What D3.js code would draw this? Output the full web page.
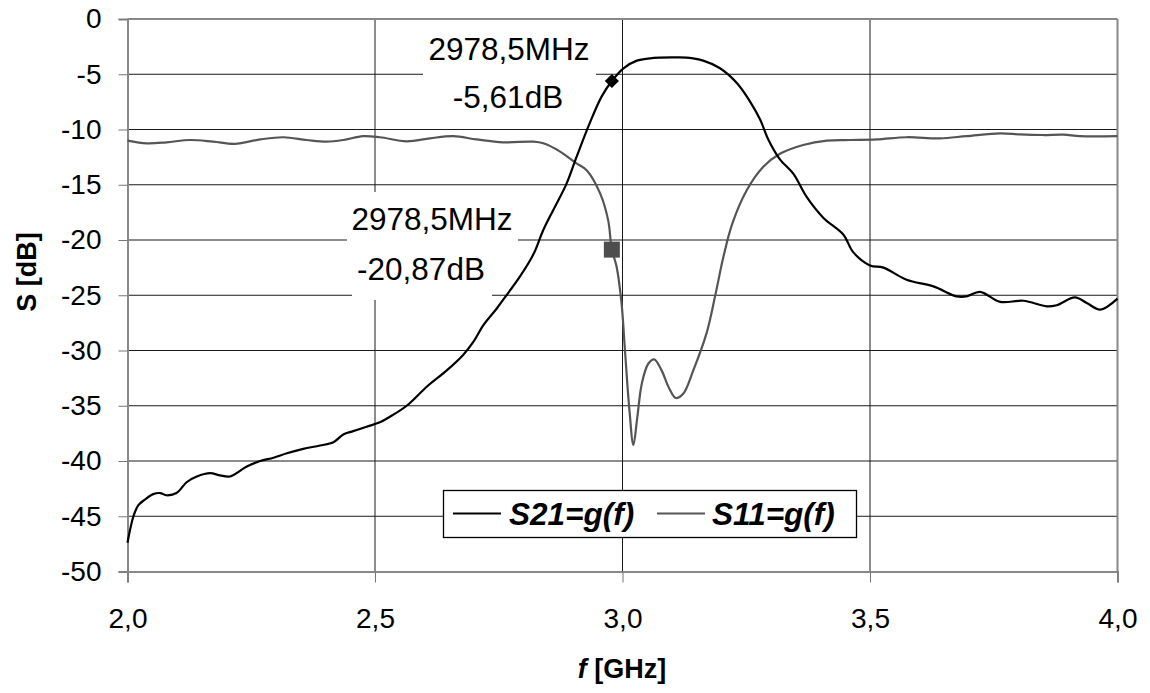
<!DOCTYPE html>
<html>
<head>
<meta charset="utf-8">
<script src="https://cdn.jsdelivr.net/npm/d3@7"></script>
<style>
  html, body { margin: 0; padding: 0; background: #fff; }
  svg { display: block; font-family: "Liberation Sans", Arial, sans-serif; }
</style>
</head>
<body>
<svg id="chart" width="1150" height="693"></svg>
<script>
// Frequency sweep, GHz
const s21Freq = [2.000, 2.012, 2.022, 2.035, 2.052, 2.066, 2.079, 2.099, 2.120, 2.140, 2.167, 2.187, 2.207,
  2.241, 2.268, 2.295, 2.322, 2.355, 2.389, 2.416, 2.436, 2.456, 2.483, 2.510, 2.530, 2.564, 2.604, 2.645,
  2.678, 2.699, 2.719, 2.746, 2.759, 2.793, 2.820, 2.840, 2.860, 2.887, 2.907, 2.934, 2.958, 2.9785, 3.002,
  3.029, 3.056, 3.076, 3.100, 3.130, 3.163, 3.197, 3.231, 3.258, 3.278, 3.295, 3.318, 3.345, 3.372, 3.406,
  3.446, 3.466, 3.500, 3.527, 3.574, 3.628, 3.675, 3.695, 3.722, 3.763, 3.810, 3.857, 3.877, 3.914, 3.938,
  3.965, 4.000];
// Transmission S21, dB
const s21Values = [-47.4, -45.0, -44.0, -43.5, -43.0, -42.9, -43.1, -42.9, -41.9, -41.4, -41.1, -41.3, -41.4,
  -40.5, -40.0, -39.7, -39.3, -38.9, -38.6, -38.3, -37.6, -37.3, -36.9, -36.5, -36.0, -35.0, -33.3, -31.8,
  -30.4, -29.2, -27.7, -26.2, -25.4, -23.3, -21.3, -19.1, -17.3, -14.9, -12.5, -9.4, -7.0, -5.61, -4.46,
  -3.77, -3.56, -3.50, -3.48, -3.50, -3.77, -4.46, -5.8, -7.5, -9.1, -10.95, -12.7, -14.0, -16.1, -18.0,
  -19.5, -21.1, -22.3, -22.5, -23.6, -24.2, -25.1, -25.1, -24.7, -25.6, -25.5, -26.0, -25.9, -25.2, -25.7,
  -26.3, -25.3];

const s11Freq = [2.000, 2.039, 2.079, 2.126, 2.173, 2.217, 2.268, 2.315, 2.362, 2.402, 2.436, 2.476, 2.510,
  2.564, 2.611, 2.658, 2.705, 2.759, 2.820, 2.840, 2.874, 2.905, 2.928, 2.955, 2.971, 2.9785, 2.988, 2.998,
  3.005, 3.014, 3.022, 3.030, 3.039, 3.052, 3.064, 3.079, 3.093, 3.108, 3.123, 3.143, 3.170, 3.187, 3.204,
  3.222, 3.251, 3.284, 3.318, 3.365, 3.413, 3.460, 3.514, 3.574, 3.641, 3.695, 3.763, 3.803, 3.850, 3.891,
  3.924, 4.000];
// Reflection S11, dB
const s11Values = [-11.0, -11.25, -11.16, -10.95, -11.1, -11.3, -10.9, -10.7, -10.95, -11.1, -10.95, -10.6, -10.7,
  -11.07, -10.8, -10.6, -10.9, -11.16, -11.1, -11.25, -12.0, -13.0, -13.7, -15.8, -18.2, -20.87, -22.4, -25.7,
  -30.0, -35.4, -38.55, -36.0, -33.0, -31.2, -30.8, -31.8, -33.3, -34.3, -33.9, -31.8, -28.4, -25.1, -21.5,
  -18.5, -15.5, -13.4, -12.2, -11.4, -11.0, -10.95, -10.9, -10.7, -10.8, -10.6, -10.35, -10.45, -10.5, -10.47,
  -10.6, -10.6];

// Axis ticks
const xTicks = [2.0, 2.5, 3.0, 3.5, 4.0];
const yTicks = [0, -5, -10, -15, -20, -25, -30, -35, -40, -45, -50];

// Marked point (frequency in GHz, S21 and S11 in dB)
const markFreq = 2.9785;
const markS21 = -5.61;
const markS11 = -20.87;
const markLabelFreq = "2978,5MHz";
const markLabelS21 = "-5,61dB";
const markLabelS11 = "-20,87dB";

const svg = d3.select("#chart");
const W = 1150, H = 693;
svg.append("rect").attr("width", W).attr("height", H).attr("fill", "#fff");

const x = d3.scaleLinear().domain([2, 4]).range([127.5, 1117.5]);
const y = d3.scaleLinear().domain([-50, 0]).range([571.5, 19]);

const comma = v => v.toFixed(1).replace(".", ",");

// Grid lines
const grid = svg.append("g");
grid.selectAll("line.h").data(yTicks.filter(v => v !== 0 && v !== -50)).join("line")
  .attr("x1", x(2)).attr("x2", x(4))
  .attr("y1", d => y(d)).attr("y2", d => y(d))
  .attr("stroke", "#1a1a1a").attr("stroke-width", 1);
grid.selectAll("line.v").data(xTicks.filter(v => v !== 2 && v !== 4)).join("line")
  .attr("x1", d => x(d)).attr("x2", d => x(d))
  .attr("y1", y(0)).attr("y2", y(-50))
  .attr("stroke", "#1a1a1a").attr("stroke-width", 1);

// Frame: top and right edges
svg.append("line").attr("x1", x(2)).attr("x2", x(4)).attr("y1", y(0)).attr("y2", y(0))
  .attr("stroke", "#888").attr("stroke-width", 2);
svg.append("line").attr("x1", x(4)).attr("x2", x(4)).attr("y1", y(0)).attr("y2", y(-50))
  .attr("stroke", "#888").attr("stroke-width", 2);

// Axes
const yAxis = svg.append("g").attr("transform", `translate(${x(2)},0)`)
  .call(d3.axisLeft(y).tickValues(yTicks).tickSize(9).tickPadding(17).tickFormat(d => String(d)));
const xAxis = svg.append("g").attr("transform", `translate(0,${y(-50)})`)
  .call(d3.axisBottom(x).tickValues(xTicks).tickSize(11).tickPadding(26).tickFormat(comma));
[yAxis, xAxis].forEach(a => {
  a.select(".domain").attr("stroke", "#888").attr("stroke-width", 2);
  a.selectAll(".tick line").attr("stroke", "#777").attr("stroke-width", 1);
  a.selectAll(".tick text").attr("fill", "#000").attr("font-size", 28)
    .attr("font-family", "'Liberation Sans', Arial, sans-serif");
});

// Axis titles
const xt = svg.append("text").attr("x", 622).attr("y", 678).attr("text-anchor", "middle")
  .attr("font-size", 27).attr("font-weight", "bold");
xt.append("tspan").attr("font-style", "italic").text("f");
xt.append("tspan").text(" [GHz]");
svg.append("text").attr("transform", "translate(36,272) rotate(-90)").attr("text-anchor", "middle")
  .attr("font-size", 27).attr("font-weight", "bold").text("S [dB]");

// Data label backgrounds and text
const labels = [
  { text: markLabelFreq, cx: 509, base: 60, box: [423, 22, 596, 78] },
  { text: markLabelS21, cx: 508, base: 108, box: [448, 78, 569, 118] },
  { text: markLabelFreq, cx: 432, base: 230, box: [347, 192, 518, 246] },
  { text: markLabelS11, cx: 421, base: 280, box: [352, 246, 492, 300] }
];
const lab = svg.append("g");
lab.selectAll("rect").data(labels).join("rect")
  .attr("x", d => d.box[0]).attr("y", d => d.box[1])
  .attr("width", d => d.box[2] - d.box[0]).attr("height", d => d.box[3] - d.box[1])
  .attr("fill", "#fff");
lab.selectAll("text").data(labels).join("text")
  .attr("x", d => d.cx).attr("y", d => d.base).attr("text-anchor", "middle")
  .attr("font-size", 31.5).attr("fill", "#000").text(d => d.text);

// Curves
const line = d3.line().x(d => x(d[0])).y(d => y(d[1])).curve(d3.curveCatmullRom.alpha(0.5));
const s11Data = s11Freq.map((f, i) => [f, s11Values[i]]);
const s21Data = s21Freq.map((f, i) => [f, s21Values[i]]);
svg.append("path").datum(s11Data).attr("d", line)
  .attr("fill", "none").attr("stroke", "#555").attr("stroke-width", 2.2).attr("stroke-linejoin", "round");
svg.append("path").datum(s21Data).attr("d", line)
  .attr("fill", "none").attr("stroke", "#000").attr("stroke-width", 2.2).attr("stroke-linejoin", "round");

// Markers
svg.append("path").attr("d", d3.symbol(d3.symbolSquare, 256)())
  .attr("transform", `translate(${x(markFreq)},${y(markS11)})`).attr("fill", "#4d4d4d");
svg.append("path").attr("d", d3.symbol(d3.symbolSquare, 100)())
  .attr("transform", `translate(${x(markFreq)},${y(markS21)}) rotate(45)`).attr("fill", "#000");

// Legend
const leg = svg.append("g");
leg.append("rect").attr("x", 443.5).attr("y", 490.5).attr("width", 413).attr("height", 47)
  .attr("fill", "#fff").attr("stroke", "#000").attr("stroke-width", 1.3);
const legItems = [
  { name: "S21=g(f)", color: "#000", x0: 453, tx: 509 },
  { name: "S11=g(f)", color: "#555", x0: 657, tx: 712 }
];
legItems.forEach(it => {
  leg.append("line").attr("x1", it.x0).attr("x2", it.x0 + 48).attr("y1", 513.5).attr("y2", 513.5)
    .attr("stroke", it.color).attr("stroke-width", 2);
  leg.append("text").attr("x", it.tx).attr("y", 525).attr("font-size", 31.5)
    .attr("font-weight", "bold").attr("font-style", "italic").attr("fill", "#000").text(it.name);
});
</script>
</body>
</html>
